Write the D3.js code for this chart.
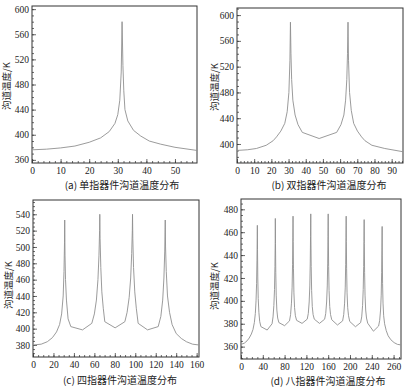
<!DOCTYPE html>
<html>
<head>
<meta charset="utf-8">
<script src="https://cdn.jsdelivr.net/npm/d3@7/dist/d3.min.js"></script>
<style>
  body { margin: 0; background: #fff; }
  svg { display: block; }
</style>
</head>
<body>
<div id="chart"></div>
<script>
// channel temperature, [position, T(K)]
const tempA = [[0,376],[5,377],[10,379],[15,382],[20,388],[24,395],[27,405],[29,418],[30,432],[30.7,455],[31.2,500],[31.5,580],
  [31.8,510],[32.1,470],[32.5,440],[33.5,422],[35.5,407],[38,398],[41,390],[45,385],[50,380],[57.7,375]];

const tempB = [[0,390],[6,391],[11.3,393],[17,398],[21,405],[23,411],[25.5,420],[27.8,432],[29.2,450],[30.2,480],[30.8,530],[31.1,589],
  [31.4,540],[31.8,500],[32.5,468],[33.8,445],[35.5,430],[38,418],[47.8,408.5],[58,418],[60.5,430],[62.2,445],[63.2,468],[63.9,500],[64.3,540],[64.6,589],
  [64.9,530],[65.5,480],[66.5,452],[67.9,432],[70.1,420],[72.5,411],[74.5,405],[78.5,398],[86,393],[96.6,388]];

const tempC = [[0,380],[8,381],[14,384],[19,389],[23,396],[26,405],[28,418],[29.5,440],[30.3,470],[30.8,505],[31,533],
  [31.3,490],[31.8,460],[32.7,435],[34.3,412],[37,402.5],[48.4,398.5],[57.5,406.5],
  [60,418],[62,435],[63.5,460],[64.5,490],[65.1,520],[65.3,540],[65.6,510],[66.3,475],[67.3,445],[68.7,425],[70.2,408.5],[80.3,401],[89.8,408.5],
  [92,420],[94,438],[95.5,462],[96.5,492],[97.1,520],[97.3,540],[97.6,510],[98.3,475],[99.5,445],[101,425],[102.8,406.5],[112,398.5],[122.4,402.5],
  [125,415],[126.8,435],[128,462],[128.8,495],[129.3,533],[129.6,500],[130.3,470],[131.5,440],[133.5,420],[136,405],[140,394],[145,388],[150,384],[156,381],[162.3,380]];

const tempD = [[0,362],[6,363],[11,365],[15,367.5],[19,371],[22,375],[24.5,381],[26.3,389],[27.6,400],[28.6,415],[29.3,435],[29.8,455],[30,466],
  [30.3,445],[30.8,420],[31.6,402],[32.8,390],[34.3,382],[36.5,377.5],[48,374.5],[57,380],
  [58.8,386],[60.3,396],[61.5,410],[62.3,430],[62.8,452],[63,472],[63.3,450],[63.8,425],[64.6,405],[65.8,392],[67.3,385],[69.5,381],[80,378.3],[89,382.5],
  [91,388],[92.6,398],[93.8,412],[94.6,432],[95.1,455],[95.5,474],[95.8,452],[96.3,428],[97.1,407],[98.3,394],[99.8,387],[102,383],[112,380.3],[121.5,384],
  [123.5,389],[125.1,399],[126.3,413],[127.1,433],[127.6,456],[128,476],[128.3,454],[128.8,430],[129.6,409],[130.8,395],[132.3,388],[134.5,384],[144,380.3],[153.5,384],
  [155.5,389],[157.1,399],[158.3,413],[159.1,433],[159.6,456],[160,476],[160.3,454],[160.8,430],[161.6,409],[162.8,395],[164.3,388],[166.5,383.5],[177,378.9],[186.5,382.5],
  [188.5,388],[190.1,398],[191.3,412],[192.1,432],[192.6,455],[193,474],[193.3,452],[193.8,428],[194.6,407],[195.8,394],[197.3,387],[199.5,382],[210,377.4],[219.5,381],
  [221.5,386],[223.1,396],[224.3,410],[225.1,430],[225.6,452],[226,471],[226.3,450],[226.8,425],[227.6,405],[228.8,392],[230.3,385],[232.5,380.5],[243,373.5],[252.5,378],
  [254.5,383],[256.1,392],[257.3,405],[258.1,425],[258.6,447],[259,465],[259.3,440],[259.8,415],[260.6,398],[261.8,387],[263.5,380],[266.5,374],[270,369.5],[275,366],[281,363.5],[287,362],[293.6,361.5]];

const xTicksA = [0, 10, 20, 30, 40, 50];
const yTicksA = [360, 400, 440, 480, 520, 560, 600];
const xTicksB = [0, 10, 20, 30, 40, 50, 60, 70, 80, 90];
const yTicksB = [400, 440, 480, 520, 560, 600];
const xTicksC = [0, 20, 40, 60, 80, 100, 120, 140, 160];
const yTicksC = [380, 400, 420, 440, 460, 480, 500, 520, 540];
const xTicksD = [0, 40, 80, 120, 160, 200, 240, 280];
const xLabelsD = ["0", "40", "80", "120", "160", "200", "240", "260"];  // as printed
const yTicksD = [360, 380, 400, 420, 440, 460, 480];

const captions = ["(a) 单指器件沟道温度分布", "(b) 双指器件沟道温度分布",
                  "(c) 四指器件沟道温度分布", "(d) 八指器件沟道温度分布"];
const yTitle = "沟道温度/K";

const panels = [
  { data: tempA, xd: [0, 57.7], yd: [355, 605], xt: xTicksA, yt: yTicksA, xm: 2, ym: 10,
    box: [32, 6, 197, 163], cap: [122, 189], ttl: [6, 86] },
  { data: tempB, xd: [0, 96.6], yd: [370.5, 611], xt: xTicksB, yt: yTicksB, xm: 2, ym: 10,
    box: [237, 8, 403, 163], cap: [329, 189], ttl: [214, 87] },
  { data: tempC, xd: [0, 162.3], yd: [365.3, 557.5], xt: xTicksC, yt: yTicksC, xm: 5, ym: 5,
    box: [33, 200, 199, 357], cap: [120, 384], ttl: [8, 285] },
  { data: tempD, xd: [0, 293.6], yd: [349.2, 489], xt: xTicksD, xl: xLabelsD, yt: yTicksD, xm: 10, ym: 5,
    box: [241, 199, 401, 359], cap: [328, 385], ttl: [214, 286] }
];

const svg = d3.select("#chart").append("svg")
    .attr("width", 420)
    .attr("height", 390);

const serif = "'Liberation Serif', 'DejaVu Serif', serif";
const cjk = "'Noto Sans CJK SC', sans-serif";

panels.forEach((p, i) => {
    const [l, t, r, b] = p.box;
    const x = d3.scaleLinear().domain(p.xd).range([l, r]);
    const y = d3.scaleLinear().domain(p.yd).range([b, t]);

    const g = svg.append("g");

    // minor ticks, drawn inward
    const xMinor = d3.range(p.xd[0], p.xd[1], p.xm);
    const yMinor = d3.range(Math.ceil(p.yd[0] / p.ym) * p.ym, p.yd[1], p.ym);

    g.append("g")
        .attr("transform", `translate(0,${b})`)
        .call(d3.axisBottom(x).tickValues(xMinor).tickSize(-2).tickFormat(""))
        .call(a => a.select(".domain").remove());
    g.append("g")
        .attr("transform", `translate(${l},0)`)
        .call(d3.axisLeft(y).tickValues(yMinor).tickSize(-2).tickFormat(""))
        .call(a => a.select(".domain").remove());

    // major ticks + labels
    const xAxis = d3.axisBottom(x).tickValues(p.xt).tickSize(-4).tickPadding(4);
    if (p.xl) xAxis.tickFormat((d, k) => p.xl[k]);
    g.append("g")
        .attr("transform", `translate(0,${b})`)
        .call(xAxis)
        .call(a => a.select(".domain").remove());
    g.append("g")
        .attr("transform", `translate(${l},0)`)
        .call(d3.axisLeft(y).tickValues(p.yt).tickSize(-4).tickPadding(3))
        .call(a => a.select(".domain").remove());

    g.selectAll(".tick line").attr("stroke", "#444").attr("stroke-width", 0.8);
    g.selectAll(".tick text")
        .attr("fill", "#222")
        .attr("font-family", serif)
        .style("font-family", serif)
        .style("font-size", "9.5px");

    g.append("rect")
        .attr("x", l).attr("y", t)
        .attr("width", r - l).attr("height", b - t)
        .attr("fill", "none")
        .attr("stroke", "#333")
        .attr("stroke-width", 1);

    g.append("path")
        .datum(p.data)
        .attr("d", d3.line().x(d => x(d[0])).y(d => y(d[1])))
        .attr("fill", "none")
        .attr("stroke", "#909090")
        .attr("stroke-width", 0.9);

    g.append("text")
        .attr("transform", `translate(${p.ttl[0]},${p.ttl[1]}) rotate(-90)`)
        .attr("text-anchor", "middle")
        .attr("dominant-baseline", "central")
        .style("font-family", cjk)
        .style("font-size", "9.5px")
        .attr("fill", "#222")
        .text(yTitle);

    g.append("text")
        .attr("x", p.cap[0]).attr("y", p.cap[1])
        .attr("text-anchor", "middle")
        .style("font-family", cjk)
        .style("font-size", "10px")
        .attr("fill", "#222")
        .text(captions[i]);
});
</script>
</body>
</html>
